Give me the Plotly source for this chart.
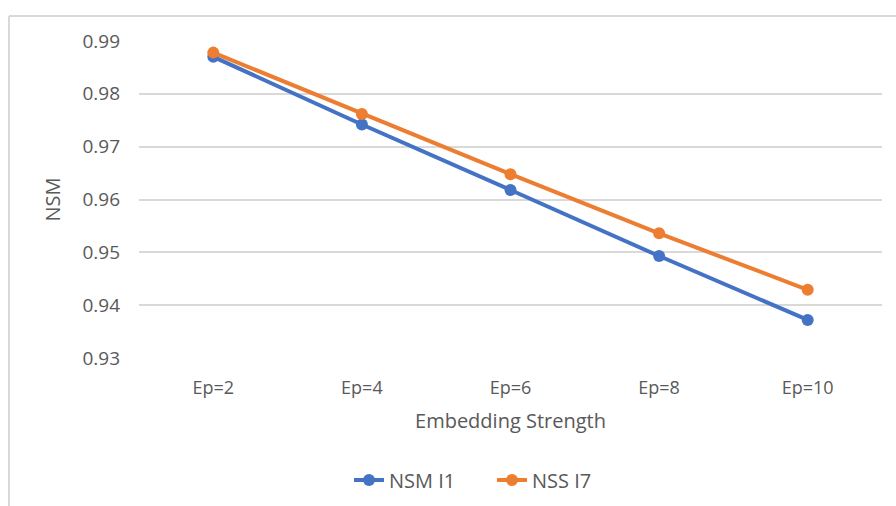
import plotly.graph_objects as go

categories = ["Ep=2", "Ep=4", "Ep=6", "Ep=8", "Ep=10"]
nsm_i1 = [0.9870, 0.9742, 0.9618, 0.9493, 0.9372]
nss_i7 = [0.9878, 0.9762, 0.9648, 0.9536, 0.9429]
y_ticks = [0.93, 0.94, 0.95, 0.96, 0.97, 0.98, 0.99]

FONT = "Open Sans"
GREY = "#595959"

# plot area in pixels
L, R, T, B = 139, 14, 41, 148
W, H = 896, 506
PW, PH = W - L - R, H - T - B

fig = go.Figure()
fig.add_trace(go.Scatter(
    x=categories, y=nsm_i1, name="NSM I1", mode="lines+markers",
    line=dict(color="#4472C4", width=4), marker=dict(size=12, color="#4472C4"),
))
fig.add_trace(go.Scatter(
    x=categories, y=nss_i7, name="NSS I7", mode="lines+markers",
    line=dict(color="#ED7D31", width=4), marker=dict(size=12, color="#ED7D31"),
))

fig.update_layout(
    width=W, height=H,
    margin=dict(l=L, r=R, t=T, b=B, autoexpand=False),
    paper_bgcolor="white", plot_bgcolor="white",
    font=dict(family=FONT, color=GREY, size=19),
    xaxis=dict(
        title=dict(text="Embedding Strength", font=dict(size=20, color=GREY), standoff=15),
        range=[-0.5, len(categories) - 0.5],
        showgrid=False, zeroline=False, showline=False,
        ticks="", ticklabelstandoff=17,
        tickfont=dict(size=18, color=GREY),
    ),
    yaxis=dict(
        title=dict(text="NSM", font=dict(size=20, color=GREY), standoff=16),
        range=[0.93, 0.99], tickvals=y_ticks,
        ticktext=[f"{v:.2f}" for v in y_ticks],
        showgrid=True, gridcolor="#D9D9D9", gridwidth=1.5,
        zeroline=False, showline=False, ticks="", ticklabelstandoff=18,
        tickfont=dict(size=19, color=GREY),
    ),
    legend=dict(
        orientation="h", x=(349 - L) / PW, xanchor="left",
        y=-122 / PH, yanchor="middle",
        font=dict(size=20, color=GREY),
        entrywidth=98, entrywidthmode="pixels",
    ),
    showlegend=True,
)

# Chart-area frame: top and left edges
top_y = 1 + (T - 16) / PH
left_x = (9 - L) / PW
fig.add_shape(type="line", xref="paper", yref="paper",
              x0=left_x, x1=(W - L) / PW, y0=top_y, y1=top_y,
              line=dict(color="#D9D9D9", width=2))
fig.add_shape(type="line", xref="paper", yref="paper",
              x0=left_x, x1=left_x, y0=-B / PH, y1=top_y,
              line=dict(color="#D9D9D9", width=2))

fig.write_html("out.html")
